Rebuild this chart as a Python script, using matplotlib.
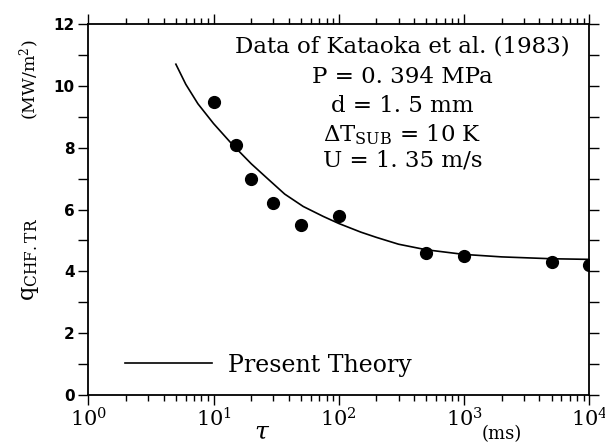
import matplotlib
matplotlib.use("Agg")
import matplotlib.pyplot as plt
from matplotlib.ticker import LogLocator, MultipleLocator, FixedLocator, FixedFormatter

# measured data (Kataoka et al. 1983)
tau_data = [10, 15, 20, 30, 50, 100, 500, 1000, 5000, 10000]
q_data = [9.48, 8.08, 7.0, 6.2, 5.5, 5.78, 4.58, 4.5, 4.3, 4.2]

# present theory curve
tau_theory = [5, 6, 7.5, 10, 14, 20, 27, 37, 52, 75, 100, 150, 200, 300, 500, 1000, 2000, 5000, 10000]
q_theory = [10.70, 10.05, 9.42, 8.78, 8.12, 7.48, 7.00, 6.50, 6.10, 5.78, 5.55, 5.27, 5.10, 4.88, 4.70, 4.55, 4.47, 4.41, 4.39]

x_ticks = [1, 10, 100, 1000, 10000]
x_labels = [r'$10^{0}$', r'$10^{1}$', r'$10^{2}$', r'$10^{3}$', r'$10^{4}$']

plt.rcParams['mathtext.fontset'] = 'dejavuserif'
serif = 'DejaVu Serif'

fig = plt.figure(figsize=(6.05, 4.44), dpi=100)
ax = fig.add_axes([0.146, 0.110, 0.828, 0.836])

ax.plot(tau_theory, q_theory, '-', color='black', lw=1.2, label='Present Theory')
ax.plot(tau_data, q_data, 'o', color='black', ms=8.5)

ax.set_xscale('log')
ax.set_xlim(1, 10000)
ax.set_ylim(0, 12)

ax.xaxis.set_major_locator(FixedLocator(x_ticks))
ax.xaxis.set_major_formatter(FixedFormatter(x_labels))
ax.xaxis.set_minor_locator(LogLocator(base=10, subs=range(2, 10)))
ax.yaxis.set_major_locator(MultipleLocator(2))
ax.yaxis.set_minor_locator(MultipleLocator(1))

ax.tick_params(which='both', direction='out', top=True, right=True, width=1.0)
ax.tick_params(which='major', length=7)
ax.tick_params(which='minor', length=4)
ax.tick_params(axis='y', which='minor', length=7)
ax.tick_params(axis='x', labelsize=15, pad=2)
ax.tick_params(axis='y', labelsize=11, pad=3)
for lab in ax.get_yticklabels():
    lab.set_fontweight('bold')
for s in ax.spines.values():
    s.set_linewidth(1.3)

# annotation block
lines = ['Data of Kataoka et al. (1983)', 'P = 0. 394 MPa', 'd = 1. 5 mm',
         r'$\Delta$T$_{\mathregular{SUB}}$ = 10 K', 'U = 1. 35 m/s']
ys = [0.938, 0.857, 0.779, 0.701, 0.633]
for s, y in zip(lines, ys):
    ax.text(0.627, y, s, transform=ax.transAxes, ha='center', va='center',
            fontsize=16.5, family=serif)

ax.legend(loc='center left', bbox_to_anchor=(0.073, 0.081), frameon=False,
          borderpad=0, borderaxespad=0, handlelength=3.7, handletextpad=0.65,
          prop={'family': serif, 'size': 17})

# axis labels
fig.text(0.05, 0.82, r'(MW/m$^{2}$)', rotation=90, ha='center', va='center',
         fontsize=12.5, family=serif)
fig.text(0.05, 0.415, r'q$_{\mathregular{CHF.TR}}$', rotation=90, ha='center', va='center',
         fontsize=16, family=serif)
fig.text(0.433, 0.027, r'$\tau$', ha='center', va='center', fontsize=18)
fig.text(0.83, 0.022, '(ms)', ha='center', va='center', fontsize=13, family=serif)

fig.savefig('out.png', dpi=100)
